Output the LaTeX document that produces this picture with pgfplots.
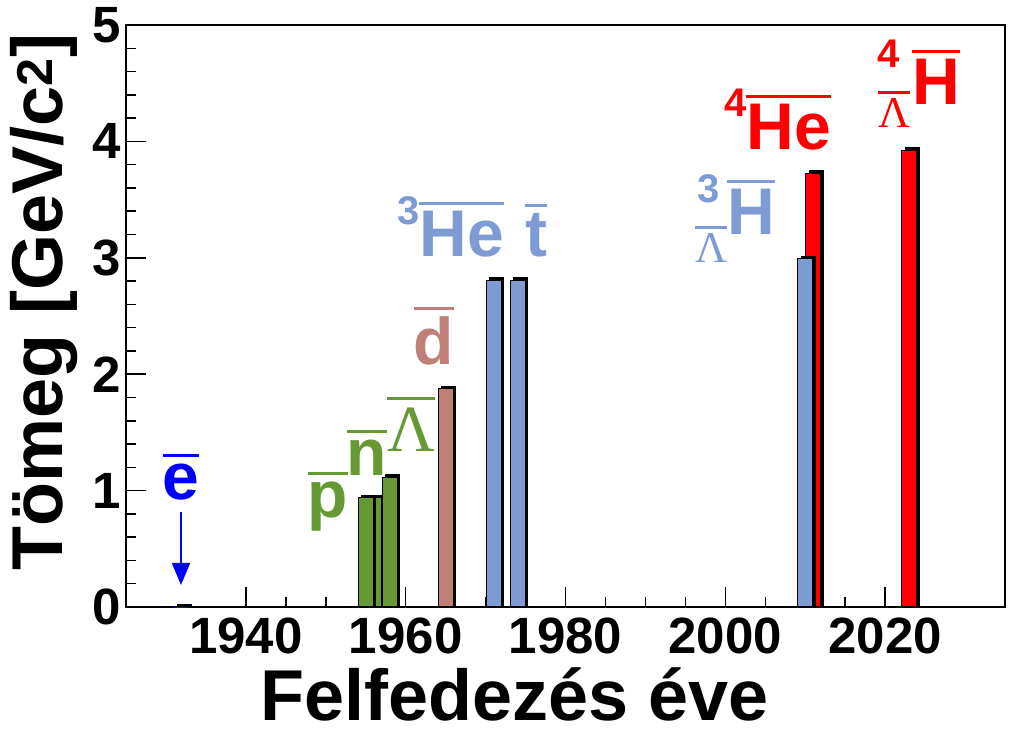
\documentclass[border=0pt]{standalone}
\usepackage{pgfplots}
\pgfplotsset{compat=1.18}
\usetikzlibrary{arrows.meta}
\usepackage{fontspec}
\setmainfont{Liberation Sans}
\newfontfamily\serif{Liberation Serif}
\definecolor{pgreen}{RGB}{102,153,51}
\definecolor{pbrown}{RGB}{192,128,120}
\definecolor{plblue}{RGB}{127,155,211}
\definecolor{pblue}{RGB}{0,0,255}
\definecolor{pred}{RGB}{255,0,0}
\newcommand\ol[2][7pt]{\vbox{\hrule height 3pt\kern #1\hbox{#2}}}
\newcommand\lbl{\fontsize{66}{66}\selectfont\bfseries}
\newcommand\sml{\fontsize{40}{40}\selectfont\bfseries}
\newcommand\tkf{\fontsize{51}{51}\selectfont\bfseries}
\pgfplotsset{
  shadowbar/.style={ybar, bar width=15pt, bar shift=3pt, fill=black, draw=none},
  mainbar/.style={ybar, bar width=15pt, bar shift=0pt, fill=#1, draw=black, line width=1pt},
}
\begin{document}
\begin{tikzpicture}
\path[use as bounding box] (0pt,0pt) rectangle (1013pt,734pt);
\begin{axis}[
  at={(126pt,127pt)}, anchor=south west,
  scale only axis, width=879pt, height=582pt,
  xmin=1925, xmax=2035, ymin=0, ymax=5,
  xtick={1940,1960,1980,2000,2020},
  xticklabels={\textbf{1940},\textbf{1960},\textbf{1980},\textbf{2000},\textbf{2020}},
  minor x tick num=3,
  ytick={0,1,2,3,4,5},
  yticklabels={\textbf{0},\textbf{1},\textbf{2},\textbf{3},\textbf{4},\textbf{5}},
  minor y tick num=4,
  tick pos=left, tick align=inside,
  major tick length=20pt, minor tick length=10pt,
  every tick/.style={black, line width=1.5pt},
  axis line style={line width=1.5pt},
  /pgf/number format/assume math mode=true,
  xticklabel style={font=\tkf, inner sep=0pt, yshift=-11pt},
  yticklabel style={font=\tkf, inner sep=0pt, xshift=-5pt},
  clip=false,
]
% e
\addplot[shadowbar] coordinates {(1932,0.030)};
\addplot[mainbar=pblue] coordinates {(1932,0.000511)};
% n (behind p)
\addplot[shadowbar] coordinates {(1956,0.966)};
\addplot[mainbar=pgreen] coordinates {(1956,0.940)};
% p
\addplot[shadowbar] coordinates {(1955,0.964)};
\addplot[mainbar=pgreen] coordinates {(1955,0.938)};
% Lambda
\addplot[shadowbar] coordinates {(1958,1.142)};
\addplot[mainbar=pgreen] coordinates {(1958,1.116)};
% d
\addplot[shadowbar] coordinates {(1965,1.902)};
\addplot[mainbar=pbrown] coordinates {(1965,1.876)};
% 3He
\addplot[shadowbar] coordinates {(1971,2.835)};
\addplot[mainbar=plblue] coordinates {(1971,2.809)};
% t
\addplot[shadowbar] coordinates {(1974,2.835)};
\addplot[mainbar=plblue] coordinates {(1974,2.809)};
% 4He (behind hypertriton)
\addplot[shadowbar] coordinates {(2011,3.753)};
\addplot[mainbar=pred] coordinates {(2011,3.727)};
% hypertriton
\addplot[shadowbar] coordinates {(2010,3.017)};
\addplot[mainbar=plblue] coordinates {(2010,2.991)};
% 4LH
\addplot[shadowbar] coordinates {(2023,3.948)};
\addplot[mainbar=pred] coordinates {(2023,3.922)};
\end{axis}
% axis titles
\node[rotate=90, anchor=base, inner sep=0pt, font=\fontsize{72}{72}\selectfont\bfseries] at (62pt,432pt) {Tömeg [GeV/c\textsuperscript{2}]};
\node[anchor=base, inner sep=0pt, font=\fontsize{72}{72}\selectfont\bfseries] at (515pt,13pt) {Felfedezés éve};
% particle labels
\node[pblue, anchor=base, font=\lbl] at (181pt,234pt) {\ol{e}};
\draw[pblue, line width=2pt, -{Triangle[length=22pt,width=18pt]}] (181pt,222pt) -- (181pt,149pt);
\node[pgreen, anchor=base, font=\lbl] at (328pt,216pt) {\ol{p}};
\node[pgreen, anchor=base, font=\lbl] at (367pt,258pt) {\ol{n}};
\node[pgreen, anchor=base, font=\serif\fontsize{66}{66}\selectfont] at (411pt,282pt) {\ol[8pt]{Λ}};
\node[pbrown, anchor=base, font=\lbl] at (434pt,369pt) {\ol{d}};
\node[plblue, anchor=base west, inner sep=0pt, font=\lbl] at (397pt,477pt) {\raisebox{32pt}{\sml 3}\ol{He}};
\node[plblue, anchor=base, font=\lbl] at (536pt,477pt) {\ol{t}};
\node[pred, anchor=base west, inner sep=0pt, font=\lbl] at (724pt,584pt) {\raisebox{33pt}{\sml 4}\ol{He}};
% hypertriton
\node[plblue, anchor=base west, inner sep=0pt, font=\lbl] at (727pt,499pt) {\ol{H}};
\node[plblue, anchor=base, inner sep=0pt, font=\sml] at (709pt,531pt) {3};
\node[plblue, anchor=base, inner sep=0pt, font=\serif\fontsize{44}{44}\selectfont] at (711pt,471pt) {\ol[5pt]{Λ}};
% 4LH
\node[pred, anchor=base west, inner sep=0pt, font=\lbl] at (912pt,629pt) {\ol{H}};
\node[pred, anchor=base, inner sep=0pt, font=\sml] at (889pt,666pt) {4};
\node[pred, anchor=base, inner sep=0pt, font=\serif\fontsize{44}{44}\selectfont] at (894pt,606pt) {\ol[5pt]{Λ}};
\end{tikzpicture}
\end{document}
